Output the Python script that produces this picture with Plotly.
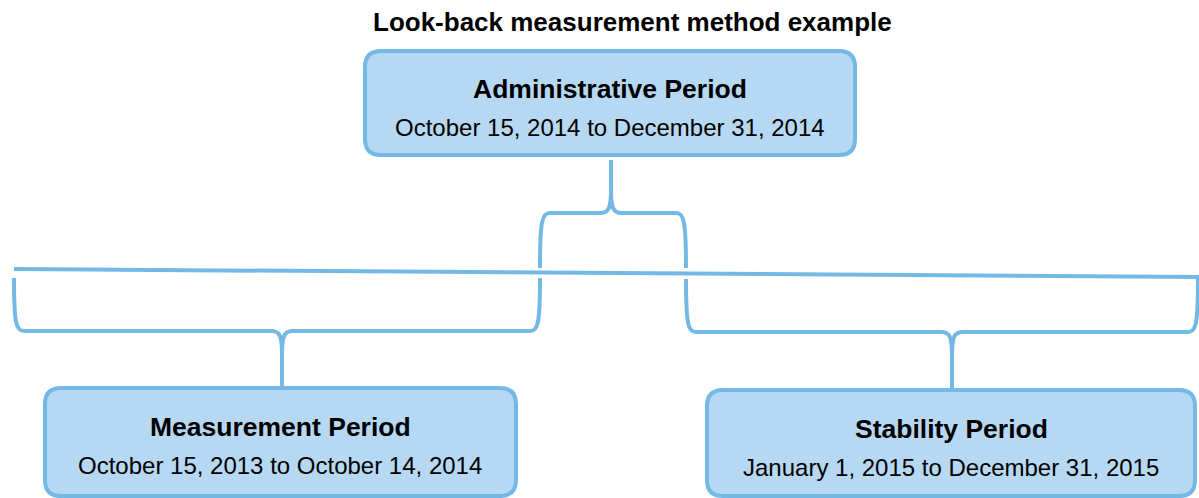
import plotly.graph_objects as go

# ---- content ----
title_text = "Look-back measurement method example"
period_names = ["Administrative Period", "Measurement Period", "Stability Period"]
period_dates = [
    "October 15, 2014 to December 31, 2014",
    "October 15, 2013 to October 14, 2014",
    "January 1, 2015 to December 31, 2015",
]

W, H = 1199, 498
FILL = "#b7d8f2"
EDGE = "#74b9e5"
FONT = "Liberation Sans, Arial, sans-serif"

# box geometry in pixel space: (x0, x1, y0, y1)
boxes = [(365, 855, 51, 155), (45, 516, 388, 496), (707, 1195, 390, 496)]
centers = [(610, 89, 127), (280, 427, 465), (951, 429, 467)]


def rrect(x0, x1, y0, y1, r=16):
    return (f"M {x0+r},{y0} L {x1-r},{y0} Q {x1},{y0} {x1},{y0+r} "
            f"L {x1},{y1-r} Q {x1},{y1} {x1-r},{y1} L {x0+r},{y1} "
            f"Q {x0},{y1} {x0},{y1-r} L {x0},{y0+r} Q {x0},{y0} {x0+r},{y0} Z")


def brace(xl, xr, xc, yt, ym, ytip):
    s = 1 if ytip > ym else -1
    p = []
    for xe, d in ((xl, 1), (xr, -1)):
        p.append(f"M {xe},{yt} C {xe},{ym - s*8} {xe + d*2},{ym} {xe + d*10},{ym} "
                 f"L {xc - d*10},{ym} C {xc - d*2},{ym} {xc},{ym + s*6} {xc},{ym + s*24} "
                 f"L {xc},{ytip}")
    return " ".join(p)


shapes = []
shapes.append(dict(type="line", x0=14, y0=269, x1=1199, y1=277,
                   line=dict(color=EDGE, width=4), xref="x", yref="y"))
for args in [(540, 686, 611, 268, 213, 160),
             (14, 540, 282, 278, 331, 387),
             (686, 1198, 952, 279, 332, 389)]:
    shapes.append(dict(type="path", path=brace(*args), xref="x", yref="y",
                       line=dict(color=EDGE, width=4)))
for b in boxes:
    shapes.append(dict(type="path", path=rrect(*b), xref="x", yref="y",
                       fillcolor=FILL, line=dict(color=EDGE, width=4)))

annotations = [dict(text=f"<b>{title_text}</b>", x=632, y=22, xref="x", yref="y",
                    showarrow=False, font=dict(family=FONT, size=26, color="#000"))]
for name, date, (cx, ty, dy) in zip(period_names, period_dates, centers):
    annotations.append(dict(text=f"<b>{name}</b>", x=cx, y=ty, xref="x", yref="y",
                            showarrow=False, font=dict(family=FONT, size=26.5, color="#000")))
    annotations.append(dict(text=date, x=cx, y=dy, xref="x", yref="y",
                            showarrow=False, font=dict(family=FONT, size=24, color="#000")))

fig = go.Figure()
fig.update_layout(
    width=W, height=H, margin=dict(l=0, r=0, t=0, b=0),
    paper_bgcolor="white", plot_bgcolor="white",
    xaxis=dict(range=[0, W], visible=False, fixedrange=True),
    yaxis=dict(range=[H, 0], visible=False, fixedrange=True),
    shapes=shapes, annotations=annotations, showlegend=False,
)
fig.write_html("out.html", config={"displayModeBar": False})

# remove default page margin so the figure sits at the window origin
with open("out.html", encoding="utf-8") as f:
    html = f.read()
html = html.replace("<body>", '<body style="margin:0;overflow:hidden">', 1)
with open("out.html", "w", encoding="utf-8") as f:
    f.write(html)
